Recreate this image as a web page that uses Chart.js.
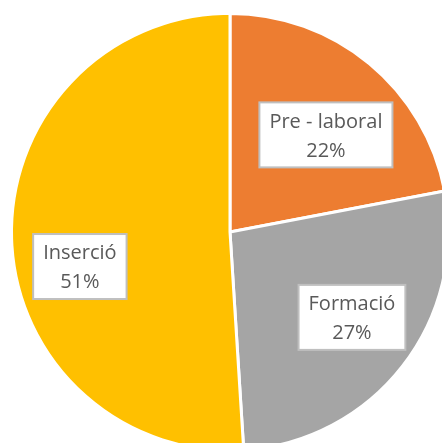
<!DOCTYPE html>
<html>
<head>
<meta charset="utf-8">
<script src="https://cdn.jsdelivr.net/npm/chart.js@4.4.1/dist/chart.umd.min.js"></script>
<style>
  html, body { margin: 0; padding: 0; background: #fff; overflow: hidden; }
  #wrap { position: relative; width: 442px; height: 443px; overflow: hidden; }
  #pie { position: absolute; left: 0; top: 0; }
</style>
</head>
<body>
<div id="wrap"><canvas id="pie" width="460" height="464"></canvas></div>
<script>
  const labels = ['Pre - laboral', 'Formació', 'Inserció'];
  const values = [22, 27, 51];
  const colors = ['#ED7D31', '#A5A5A5', '#FFC000'];

  // label box nudges (Excel "best fit" placement), in px
  const nudges = [[4, 14], [8, -3], [-6, 30]];

  const boxLabels = {
    id: 'boxLabels',
    afterDatasetsDraw(chart) {
      const ctx = chart.ctx;
      const meta = chart.getDatasetMeta(0);
      const total = values.reduce((a, b) => a + b, 0);
      ctx.save();
      ctx.font = '20px "Open Sans", sans-serif';
      ctx.textAlign = 'center';
      ctx.textBaseline = 'middle';
      meta.data.forEach((arc, i) => {
        const mid = (arc.startAngle + arc.endAngle) / 2;
        const r = arc.outerRadius * 0.66;
        const cx = arc.x + Math.cos(mid) * r + nudges[i][0];
        const cy = arc.y + Math.sin(mid) * r + nudges[i][1];
        const line1 = labels[i];
        const line2 = Math.round(values[i] / total * 100) + '%';
        const w = Math.max(ctx.measureText(line1).width, ctx.measureText(line2).width) + 20;
        const h = 65;
        ctx.fillStyle = '#fff';
        ctx.fillRect(cx - w / 2, cy - h / 2, w, h);
        ctx.strokeStyle = '#BFBFBF';
        ctx.lineWidth = 2;
        ctx.strokeRect(cx - w / 2, cy - h / 2, w, h);
        ctx.fillStyle = '#595959';
        ctx.fillText(line1, cx, cy - 13);
        ctx.fillText(line2, cx, cy + 16);
      });
      ctx.restore();
    }
  };

  new Chart(document.getElementById('pie'), {
    type: 'pie',
    data: {
      labels: labels,
      datasets: [{
        data: values,
        backgroundColor: colors,
        borderColor: '#fff',
        borderWidth: 3,
      }],
    },
    options: {
      responsive: false,
      animation: false,
      layout: { padding: { left: 10, right: 10, top: 12, bottom: 12 } },
      plugins: { legend: { display: false }, tooltip: { enabled: false } },
    },
    plugins: [boxLabels],
  });
</script>
</body>
</html>
